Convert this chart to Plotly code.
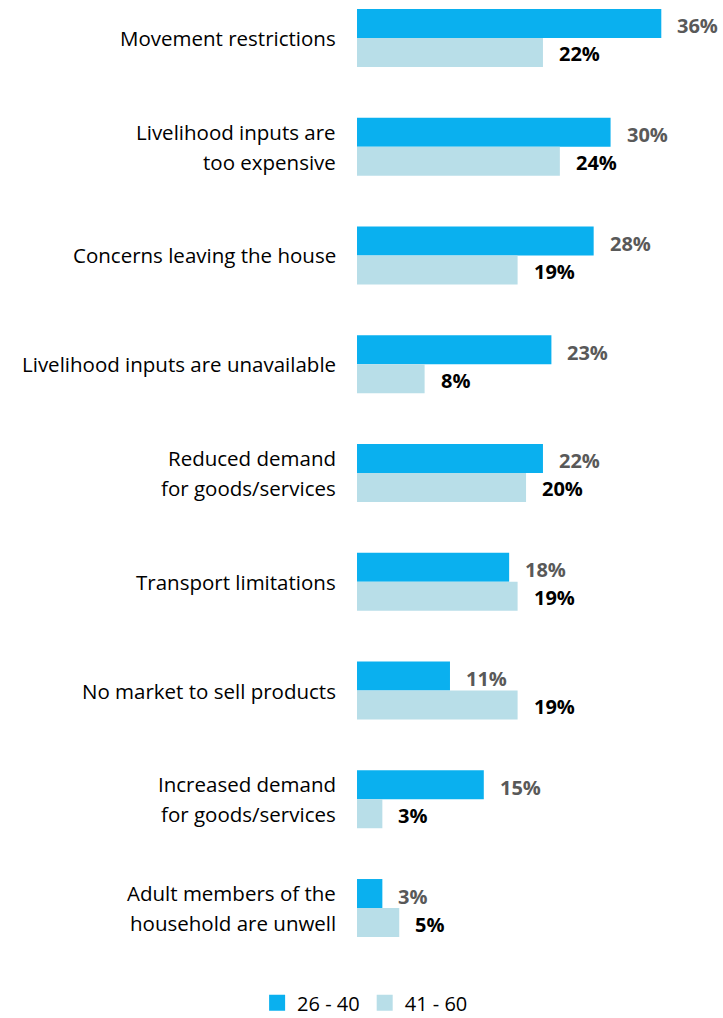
import plotly.graph_objects as go

# Reasons (top to bottom) and shares by age group
categories = ["Movement restrictions",
              "Livelihood inputs are<br>too expensive",
              "Concerns leaving the house",
              "Livelihood inputs are unavailable",
              "Reduced demand<br>for goods/services",
              "Transport limitations",
              "No market to sell products",
              "Increased demand<br>for goods/services",
              "Adult members of the<br>household are unwell"]
age_26_40 = [36, 30, 28, 23, 22, 18, 11, 15, 3]
age_41_60 = [22, 24, 19, 8, 20, 19, 19, 3, 5]
series_names = ["26 - 40", "41 - 60"]

FONT = "Open Sans"
BLUE = "#0AB0EF"
LIGHT = "#B8DEE8"
colors = [BLUE, LIGHT]

fig = go.Figure()
for name, vals, col in zip(series_names, [age_26_40, age_41_60], colors):
    fig.add_trace(go.Bar(y=categories, x=vals, orientation="h", name=name,
                         marker=dict(color=col, line_width=0), showlegend=False))
# legend entries with bigger square swatches
for name, col in zip(series_names, colors):
    fig.add_trace(go.Scatter(x=[None], y=[None], mode="markers", name=name,
                             marker=dict(symbol="square", size=16, color=col)))

annos = []
for cat, a, b in zip(categories, age_26_40, age_41_60):
    # value labels next to each bar
    annos.append(dict(x=a, y=cat, text=f"<b>{a}%</b>", showarrow=False, xanchor="left",
                      xshift=14, yshift=12, font=dict(family=FONT, size=20, color="#595959")))
    annos.append(dict(x=b, y=cat, text=f"<b>{b}%</b>", showarrow=False, xanchor="left",
                      xshift=14, yshift=-16, font=dict(family=FONT, size=20, color="#000000")))
    # category labels, one annotation per line so the spacing can be wider
    lines = cat.split("<br>")
    n = len(lines)
    for k, ln in enumerate(lines):
        annos.append(dict(x=0, xref="paper", y=cat, text=ln, showarrow=False, xanchor="right",
                          xshift=-19, yshift=(n - 1) * 15 - k * 30,
                          font=dict(family=FONT, size=20.5, color="#000000")))

fig.update_layout(
    width=723, height=1018,
    margin=dict(l=357, r=0, t=0, b=58),
    paper_bgcolor="white", plot_bgcolor="white",
    barmode="group", bargap=0.467, bargroupgap=0,
    font=dict(family=FONT, size=20, color="#000000"),
    annotations=annos,
    legend=dict(orientation="h", xref="container", yref="container", x=0.505, y=0.015,
                xanchor="center", yanchor="middle", traceorder="normal",
                font=dict(family=FONT, size=20, color="#000000"), itemwidth=30),
    showlegend=True,
)
fig.update_xaxes(range=[0, 43.3], visible=False)
fig.update_yaxes(range=[8.478, -0.349], showticklabels=False, showgrid=False,
                 zeroline=False, showline=False, ticks="")

# drop the default 8px body margin so the figure fills the window
fig.write_html("out.html", config={"displayModeBar": False},
               post_script="document.body.style.margin='0';document.body.style.overflow='hidden';")
